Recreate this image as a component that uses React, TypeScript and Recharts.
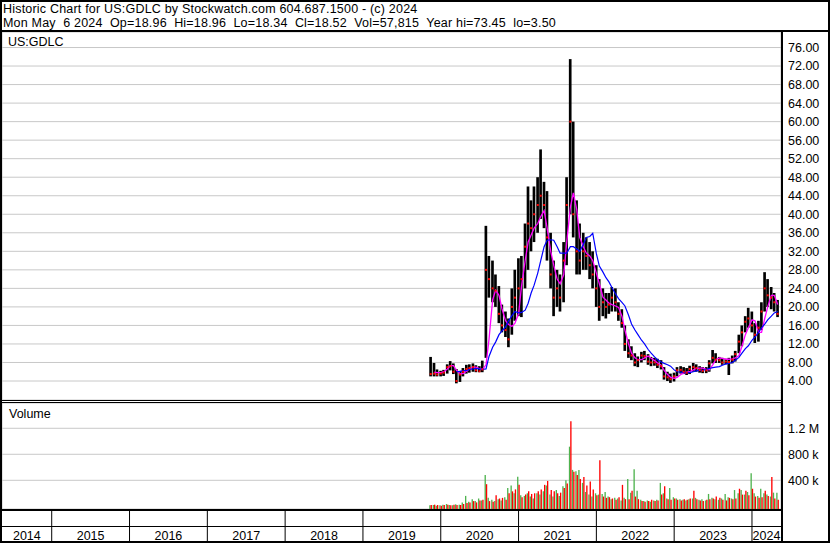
import React from "react";
import { ComposedChart, Bar, Line, Scatter, XAxis, YAxis, CartesianGrid } from "recharts";

const FONT = '"Liberation Sans", Arial, Helvetica, sans-serif';

const TITLE = "Historic Chart for US:GDLC by Stockwatch.com 604.687.1500 - (c) 2024";
const SUBTITLE = "Mon May  6 2024  Op=18.96  Hi=18.96  Lo=18.34  Cl=18.52  Vol=57,815  Year hi=73.45  lo=3.50";
const SYMBOL = "US:GDLC";
const VOLUME_LABEL = "Volume";

const dates = [
  "2019-11-15", "2019-12-01", "2019-12-15",
  "2020-01-01", "2020-01-15", "2020-02-01", "2020-02-15", "2020-03-01", "2020-03-15", "2020-04-01", "2020-04-15", "2020-05-01", "2020-05-15", "2020-06-01", "2020-06-15",
  "2020-07-01", "2020-07-15", "2020-08-01", "2020-08-15", "2020-09-01", "2020-09-15", "2020-10-01", "2020-10-15", "2020-11-01", "2020-11-15", "2020-12-01", "2020-12-15",
  "2021-01-01", "2021-01-15", "2021-02-01", "2021-02-15", "2021-03-01", "2021-03-15", "2021-04-01", "2021-04-15", "2021-05-01", "2021-05-15", "2021-06-01", "2021-06-15",
  "2021-07-01", "2021-07-15", "2021-08-01", "2021-08-15", "2021-09-01", "2021-09-15", "2021-10-01", "2021-10-15", "2021-11-01", "2021-11-15", "2021-12-01", "2021-12-15",
  "2022-01-01", "2022-01-15", "2022-02-01", "2022-02-15", "2022-03-01", "2022-03-15", "2022-04-01", "2022-04-15", "2022-05-01", "2022-05-15", "2022-06-01", "2022-06-15",
  "2022-07-01", "2022-07-15", "2022-08-01", "2022-08-15", "2022-09-01", "2022-09-15", "2022-10-01", "2022-10-15", "2022-11-01", "2022-11-15", "2022-12-01", "2022-12-15",
  "2023-01-01", "2023-01-15", "2023-02-01", "2023-02-15", "2023-03-01", "2023-03-15", "2023-04-01", "2023-04-15", "2023-05-01", "2023-05-15", "2023-06-01", "2023-06-15",
  "2023-07-01", "2023-07-15", "2023-08-01", "2023-08-15", "2023-09-01", "2023-09-15", "2023-10-01", "2023-10-15", "2023-11-01", "2023-11-15", "2023-12-01", "2023-12-15",
  "2024-01-01", "2024-01-15", "2024-02-01", "2024-02-15", "2024-03-01", "2024-03-15", "2024-04-01", "2024-04-15", "2024-05-01",
];

const hi = [
  9.2, 7.9, 6.5,
  6.2, 6.4, 7.6, 8.3, 7.8, 6.6, 6.2, 6.8, 7.5, 7.6, 7.8, 7.4, 7.2, 8.4, 37.5, 31, 30, 27, 24.5, 20.5, 19, 17.5, 24, 28,
  30.5, 31, 38, 46, 43, 46, 48, 54, 47, 45, 36, 30, 28, 27, 34, 48, 73.5, 60, 43, 38, 36, 35, 34, 32,
  29, 26, 24, 23, 23, 24.3, 24, 21, 19.5, 16, 13, 11.5, 10, 9.3, 10.3, 10.5, 9.8, 9.2, 9, 8.8, 8.5, 7, 6, 5.6,
  5.8, 7, 7.2, 7, 6.8, 7.3, 7.9, 7.6, 7.2, 7, 7, 8.5, 10.7, 10, 9.2, 9, 8.8, 9, 9.5, 10.5, 14, 16, 18, 19.8,
  19, 16.5, 17, 21, 27.5, 26, 24.3, 23, 21.5,
];

const lo = [
  5.0, 5.0, 5.0,
  5.0, 5.1, 5.6, 6.3, 5.5, 3.5, 3.8, 5.0, 5.6, 5.8, 6.0, 5.9, 5.9, 5.9, 9, 22, 21, 20, 16.5, 14.5, 13.5, 11.3, 14, 17,
  18, 17.8, 24, 28, 32, 34, 36, 39, 37, 30, 24, 18, 20, 19, 21, 29, 40, 35, 27, 27, 28, 28, 26, 24,
  20, 17, 18, 17.5, 18.5, 19, 19, 17, 15.5, 10.5, 9, 8.5, 7.2, 7, 8, 8.5, 7.5, 7.2, 7.3, 6.8, 6.5, 4.3, 4, 3.6,
  3.9, 5, 5.6, 5.5, 5.3, 5.5, 6, 6, 5.8, 5.7, 5.7, 6, 7.8, 7.9, 7.9, 7.5, 7.6, 5.3, 7.8, 8.2, 10, 11.5, 14.5, 15.5,
  14.5, 12.2, 12.5, 15, 19, 20, 19.5, 19, 17.8,
];

const close = [
  5.5, 5.6, 5.4,
  5.6, 5.8, 7.0, 7.2, 6.0, 4.0, 5.4, 6.0, 6.6, 6.8, 7.0, 6.3, 6.1, 6.5, 28, 26, 24, 23.5, 18.5, 16, 15, 13, 20, 22,
  24, 26, 33, 38, 37, 40, 42, 44, 42, 35, 27, 22, 24, 22, 30, 42, 60, 40, 32, 30, 32, 31, 29, 27,
  24, 20, 21, 20, 20.5, 22, 21, 18.5, 16.5, 12, 10, 9.5, 8, 8.5, 9.5, 9.4, 8.2, 8, 8, 7.5, 7.2, 5, 4.8, 4.4,
  5.0, 6.3, 6.4, 6, 5.8, 6.6, 7, 6.8, 6.4, 6.2, 6.3, 7.8, 9, 8.6, 8.5, 8, 8.2, 8.1, 8.6, 9.8, 12.5, 14.5, 16.8, 17.5,
  16, 14, 15.5, 19, 24, 22.5, 22, 21, 18.5,
];

const maFast = [
  null, 5.9, 5.8,
  5.8, 6.0, 6.6, 7.3, 7.3, 6.3, 5.6, 5.6, 6.1, 6.6, 7.0, 7.0, 6.7, 6.5, 7.5, 13, 21.5, 23.6, 22.5, 19.6, 17, 16.2, 15.8, 16.5,
  18.5, 24.5, 30, 34, 35.5, 37, 38, 39.5, 40.8, 37, 32, 29, 26, 25, 27, 34, 41.5, 44.6, 41, 35, 33, 31.6, 31, 30,
  27.3, 25, 22.1, 21.5, 20.8, 20.5, 20.2, 19.9, 18, 15, 12, 10, 9, 8.6, 8.6, 9.0, 9.4, 8.9, 8.4, 7.9, 7.4, 6.3, 5.4, 4.8,
  4.6, 4.8, 5.4, 5.7, 5.9, 6.0, 6.4, 6.7, 6.8, 6.8, 6.5, 6.4, 7.5, 8.6, 9.0, 8.9, 8.7, 8.7, 8.8, 9.0, 9.5, 11.5, 14, 15.5,
  17.2, 17, 14.5, 14.5, 17.5, 20, 22.5, 22.5, 20.5,
];

const maSlow = [
  null, null, null,
  null, null, null, null, null, 6.0, 6.1, 6.2, 6.3, 6.5, 6.6, 6.7, 6.6, 6.5, 6.6, 9.3, 11.3, 12.4, 14, 14.8, 15.7, 17, 18.1, 19.0,
  18.7, 18.8, 19.3, 20.8, 23, 24.7, 27.3, 30, 33, 34.4, 34.5, 34.4, 33, 31.6, 31.6, 31.6, 33, 33, 32.5, 32, 33.5, 35, 35.2, 35.9,
  31.5, 28.8, 27.5, 26.3, 25.4, 24.2, 22.8, 21.8, 21, 20.2, 18.2, 16.3, 15, 14, 12.8, 12, 10.8, 10, 9.2, 8.6, 8.1, 7.8, 7.5, 7.2,
  6.4, 6.0, 5.9, 5.8, 5.8, 5.8, 6.0, 6.2, 6.3, 6.3, 6.5, 6.7, 6.9, 7.0, 7.1, 7.4, 7.7, 7.8, 8.0, 8.5, 9.1, 10, 11, 11.6,
  12.8, 13.5, 14.5, 15.5, 16.3, 17.2, 18, 18.7, 19.0,
];

// volume in thousands: up days (green) and down days (red)
const volUp = [
  15, 20, 10,
  15, 25, 35, 20, 15, 30, 25, 60, 160, 70, 110, 80, 120, 90, 480, 130, 100, 80, 110, 90, 140, 280, 320, 200,
  455, 170, 160, 200, 150, 120, 200, 180, 230, 320, 180, 150, 250, 160, 310, 400, 917, 560, 540, 560, 360, 220, 180, 150,
  200, 180, 190, 220, 150, 110, 130, 120, 90, 130, 420, 210, 570, 240, 100, 80, 90, 70, 90, 100, 360, 200, 120, 280,
  140, 120, 110, 100, 90, 110, 120, 130, 100, 110, 90, 190, 130, 110, 100, 120, 190, 140, 120, 250, 200, 250, 180, 220,
  510, 200, 160, 270, 200, 180, 150, 210, 210,
];

const volDown = [
  20, 25, 20,
  10, 20, 25, 15, 25, 20, 20, 35, 50, 60, 80, 60, 90, 100, 340, 80, 70, 170, 120, 130, 100, 200, 230, 260,
  330, 140, 180, 230, 190, 200, 230, 260, 330, 390, 250, 230, 200, 210, 280, 350, 1310, 530, 480, 420, 450, 320, 380, 260,
  170, 710, 150, 130, 140, 120, 100, 140, 330, 110, 110, 240, 150, 110, 80, 70, 80, 100, 80, 90, 180, 310, 110, 100,
  120, 100, 90, 110, 100, 120, 240, 110, 90, 80, 100, 110, 120, 150, 130, 100, 90, 130, 110, 120, 270, 180, 240, 170,
  270, 150, 130, 140, 240, 160, 450, 120, 100,
];

const years = [2014, 2015, 2016, 2017, 2018, 2019, 2020, 2021, 2022, 2023, 2024];
const xDomain: [number, number] = [2014.361, 2024.373];
const priceTicks = [4, 8, 12, 16, 20, 24, 28, 32, 36, 40, 44, 48, 52, 56, 60, 64, 68, 72, 76];
const priceDomain: [number, number] = [-0.1, 79.35];
const volumeTicks = [400000, 800000, 1200000];
const volumeTickLabels = ["400 k", "800 k", "1.2 M"];
const VOL_FLOOR = -41500;
const volumeDomain: [number, number] = [VOL_FLOOR, 1589000];

const COLORS = {
  grid: "#c8c8c8",
  bar: "#000000",
  closeMark: "#ff0000",
  fast: "#ff00ff",
  slow: "#0000ff",
  volUp: "#4fb34f",
  volDown: "#ff0000",
};

function toDecimalYear(s: string) {
  const [y, m, d] = s.split("-").map(Number);
  const start = Date.UTC(y, 0, 1);
  const end = Date.UTC(y + 1, 0, 1);
  return y + (Date.UTC(y, m - 1, d) - start) / (end - start);
}

const rows = dates.map((d, i) => ({
  t: toDecimalYear(d),
  range: [lo[i], hi[i]],
  close: close[i],
  fast: maFast[i],
  slow: maSlow[i],
  up: [VOL_FLOOR, volUp[i] * 1000],
  down: [VOL_FLOOR, volDown[i] * 1000],
}));

const yearBoundaries = years.filter((y) => y > xDomain[0] && y < xDomain[1]);
const yearCenters = years.map((y) => (Math.max(y, xDomain[0]) + Math.min(y + 1, xDomain[1])) / 2);
const yearAxisTicks = [...yearBoundaries, ...yearCenters];

const YearTick = (props: any) => {
  const { x, y, payload } = props;
  const v = payload.value;
  if (yearBoundaries.includes(v)) {
    return <line x1={x} x2={x} y1={y} y2={y + 32} stroke="#000" strokeWidth={1} />;
  }
  const idx = yearCenters.indexOf(v);
  return (
    <text x={x} y={y + 30.5} textAnchor="middle" fontSize={12.5} fontFamily={FONT} fill="#000">
      {String(years[idx])}
    </text>
  );
};

const CloseMark = (props: any) => {
  const { cx, cy } = props;
  if (cx == null || cy == null) return null;
  return <rect x={cx - 1} y={cy - 1} width={2} height={2} fill={COLORS.closeMark} />;
};

const tickStyle = { fill: "#000", fontSize: 12.5, fontFamily: FONT };

export default function App() {
  return (
    <div
      style={{
        position: "fixed",
        left: 0,
        top: 0,
        width: 830,
        height: 543,
        background: "#fff",
        overflow: "hidden",
        fontFamily: FONT,
      }}
    >
      <div style={{ position: "absolute", left: 2, top: 32 }}>
        <ComposedChart width={826} height={368} data={rows} margin={{ top: 0, right: 0, bottom: 0, left: 0 }}>
          <CartesianGrid stroke={COLORS.grid} />
          <XAxis
            type="number"
            dataKey="t"
            domain={xDomain}
            ticks={yearBoundaries}
            interval={0}
            allowDataOverflow
            height={0}
            tick={false}
            axisLine={false}
            tickLine={false}
          />
          <YAxis
            type="number"
            orientation="right"
            width={47}
            domain={priceDomain}
            ticks={priceTicks}
            interval={0}
            allowDataOverflow
            tickFormatter={(v: number) => v.toFixed(2)}
            axisLine={false}
            tickLine={false}
            tickSize={0}
            tickMargin={7}
            tick={tickStyle}
          />
          <Bar dataKey="range" fill={COLORS.bar} barSize={3} isAnimationActive={false} />
          <Scatter dataKey="close" shape={<CloseMark />} isAnimationActive={false} />
          <Line
            type="linear"
            dataKey="fast"
            stroke={COLORS.fast}
            strokeWidth={1.3}
            dot={false}
            connectNulls
            isAnimationActive={false}
          />
          <Line
            type="linear"
            dataKey="slow"
            stroke={COLORS.slow}
            strokeWidth={1.2}
            dot={false}
            connectNulls
            isAnimationActive={false}
          />
        </ComposedChart>
      </div>

      <div style={{ position: "absolute", left: 2, top: 403 }}>
        <ComposedChart
          width={826}
          height={138}
          data={rows}
          barGap={0}
          barCategoryGap={0}
          margin={{ top: 0, right: 0, bottom: 0, left: 0 }}
        >
          <CartesianGrid stroke={COLORS.grid} xAxisId="div" />
          <XAxis
            xAxisId="div"
            type="number"
            dataKey="t"
            domain={xDomain}
            ticks={yearBoundaries}
            interval={0}
            allowDataOverflow
            height={0}
            tick={false}
            axisLine={false}
            tickLine={false}
          />
          <XAxis
            xAxisId="lab"
            type="number"
            dataKey="t"
            domain={xDomain}
            ticks={yearAxisTicks}
            interval={0}
            allowDataOverflow
            height={32}
            tick={<YearTick />}
            axisLine={false}
            tickLine={false}
            tickSize={0}
            tickMargin={0}
          />
          <YAxis
            type="number"
            orientation="right"
            width={47}
            domain={volumeDomain}
            ticks={volumeTicks}
            interval={0}
            allowDataOverflow
            tickFormatter={(v: number) => volumeTickLabels[volumeTicks.indexOf(v)] ?? ""}
            axisLine={false}
            tickLine={false}
            tickSize={0}
            tickMargin={7}
            tick={tickStyle}
          />
          <Bar xAxisId="div" dataKey="up" fill={COLORS.volUp} barSize={2} isAnimationActive={false} />
          <Bar xAxisId="div" dataKey="down" fill={COLORS.volDown} barSize={2} isAnimationActive={false} />
        </ComposedChart>
      </div>

      <svg
        width={830}
        height={543}
        style={{ position: "absolute", left: 0, top: 0, pointerEvents: "none" }}
      >
        <rect x={0} y={0} width={830} height={2} fill="#000" />
        <rect x={0} y={0} width={2} height={543} fill="#000" />
        <rect x={828} y={0} width={2} height={543} fill="#000" />
        <rect x={0} y={541} width={830} height={2} fill="#000" />
        <rect x={0} y={30} width={830} height={2} fill="#000" />
        <rect x={0} y={400} width={782} height={1} fill="#000" />
        <rect x={0} y={402} width={782} height={1} fill="#000" />
        <rect x={0} y={509} width={782} height={2} fill="#000" />
        <rect x={0} y={526} width={782} height={1} fill="#000" />
        <rect x={781} y={30} width={2} height={513} fill="#000" />
        <text x={3} y={13} fontSize={12.5} letterSpacing={0.2} fontFamily={FONT} fill="#000" style={{ whiteSpace: "pre" }}>
          {TITLE}
        </text>
        <text x={3} y={27} fontSize={12.5} letterSpacing={0.2} fontFamily={FONT} fill="#000" style={{ whiteSpace: "pre" }}>
          {SUBTITLE}
        </text>
        <text x={8} y={46} fontSize={12.5} fontFamily={FONT} fill="#000">
          {SYMBOL}
        </text>
        <text x={9} y={418} fontSize={12.5} fontFamily={FONT} fill="#000">
          {VOLUME_LABEL}
        </text>
      </svg>
    </div>
  );
}
